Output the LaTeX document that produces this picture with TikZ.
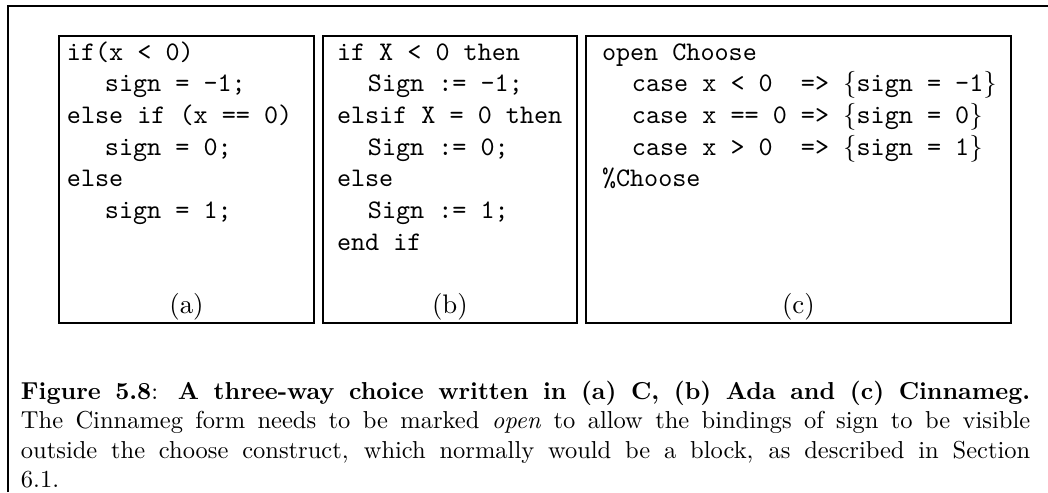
\documentclass[tikz,border=0pt]{standalone}
\usepackage{tikz}
\usetikzlibrary{positioning}

\begin{document}
\begin{tikzpicture}[font=\small, line width=0.8pt,
    codebox/.style={draw, minimum height=4.117cm, inner sep=0pt},
    code/.style={anchor=base west, inner sep=0pt, font=\fontsize{10.95}{13}\ttfamily},
    tag/.style={anchor=base, inner sep=0pt, font=\fontsize{10.95}{13}\selectfont}]
  \useasboundingbox (0,0) rectangle (15.036,7.059);
  % Outer frame (cut at the right and bottom)
  \draw (0.115,0) |- (15.036,6.973);
  % Three code panels
  \node[codebox, minimum width=3.659cm] (boxa) at (2.676,4.484) {};
  \node[codebox, minimum width=3.644cm, right=0.1cm of boxa] (boxb) {};
  \node[codebox, minimum width=6.098cm, right=0.1cm of boxb] (boxc) {};
  % (a) C
  \node[code] (a1) at (0.947,6.198) {if(x < 0)};
  \node[code] (a2) at (1.492,5.743) {sign = -1;};
  \node[code] (a3) at (0.947,5.288) {else if (x == 0)};
  \node[code] (a4) at (1.492,4.834) {sign = 0;};
  \node[code] (a5) at (0.947,4.379) {else};
  \node[code] (a6) at (1.492,3.924) {sign = 1;};
  % (b) Ada
  \node[code] (b1) at (4.821,6.198) {if X < 0 then};
  \node[code] (b2) at (5.265,5.743) {Sign := -1;};
  \node[code] (b3) at (4.821,5.288) {elsif X = 0 then};
  \node[code] (b4) at (5.265,4.834) {Sign := 0;};
  \node[code] (b5) at (4.821,4.379) {else};
  \node[code] (b6) at (5.265,3.924) {Sign := 1;};
  \node[code] (b7) at (4.821,3.469) {end if};
  % (c) Cinnameg
  \node[code] (c1) at (8.623,6.198) {open Choose};
  \node[code] (c2) at (9.053,5.743) {case x < 0\ \ => {\rmfamily\{}sign = -1{\rmfamily\}}};
  \node[code] (c3) at (9.053,5.288) {case x == 0 => {\rmfamily\{}sign = 0{\rmfamily\}}};
  \node[code] (c4) at (9.053,4.834) {case x > 0\ \ => {\rmfamily\{}sign = 1{\rmfamily\}}};
  \node[code] (c5) at (8.623,4.379) {\%Choose};
  % Panel tags
  \node[tag] (taga) at (boxa.center |- 0,2.554) {(a)};
  \node[tag] (tagb) at (boxb.center |- 0,2.554) {(b)};
  \node[tag] (tagc) at (boxc.center |- 0,2.554) {(c)};
  % Caption
  \node[anchor=base west, inner sep=0pt, text width=412pt, align=justify,
        font=\fontsize{10}{12}\selectfont] (caption) at (0.287,1.327)
    {\textbf{Figure 5.8}: \textbf{A three-way choice written in (a) C, (b) Ada and (c) Cinnameg.}\linebreak
     The Cinnameg form needs to be marked \emph{open} to allow the bindings of sign to be visible\linebreak
     outside the choose construct, which normally would be a block, as described in Section\linebreak
     6.1.};
\end{tikzpicture}
\end{document}
